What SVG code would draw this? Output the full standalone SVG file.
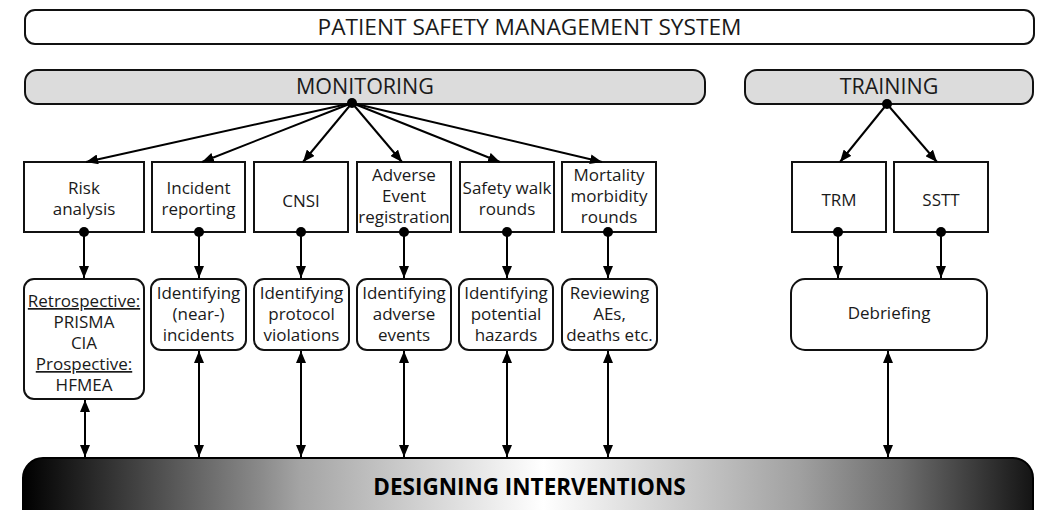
<svg xmlns="http://www.w3.org/2000/svg" width="1042" height="510" viewBox="0 0 1042 510">
  <defs>
    <style>
      .box { fill: #ffffff; stroke: #111111; stroke-width: 2; }
      .band { fill: #dcdcdc; stroke: #111111; stroke-width: 2; }
      .txt { font-family: "Open Sans", "Liberation Sans", sans-serif; font-size: 17px; fill: #1a1a1a; text-anchor: middle; }
      .head { font-family: "Open Sans", "Liberation Sans", sans-serif; font-size: 21.5px; fill: #1a1a1a; text-anchor: middle; }
      .title { font-size: 22.7px; }
      .bold { font-family: "Open Sans", "Liberation Sans", sans-serif; font-weight: bold; font-size: 22.5px; fill: #000000; text-anchor: middle; }
      .link { fill: none; stroke: #000000; stroke-width: 2; }
      .one { marker-end: url(#tip); }
      .two { marker-start: url(#tip); marker-end: url(#tip); }
      .dot { fill: #000000; }
    </style>
    <marker id="tip" viewBox="0 0 12 10" refX="12" refY="5" markerWidth="12" markerHeight="10" markerUnits="userSpaceOnUse" orient="auto-start-reverse">
      <path d="M0,0 L12,5 L0,10 z" fill="#000000"/>
    </marker>
    <linearGradient id="barShade" x1="0" y1="0" x2="1" y2="0">
      <stop offset="0" stop-color="#000000"/>
      <stop offset="0.235" stop-color="#8a8a8a"/>
      <stop offset="0.274" stop-color="#a4a4a4"/>
      <stop offset="0.515" stop-color="#ffffff"/>
      <stop offset="0.769" stop-color="#a0a0a0"/>
      <stop offset="0.868" stop-color="#6e6e6e"/>
      <stop offset="1" stop-color="#141414"/>
    </linearGradient>
  </defs>

  <!-- umbrella heading -->
  <g id="system">
    <rect class="box" x="25" y="10" width="1009" height="34" rx="10"/>
    <text class="head title" x="529.5" y="35">PATIENT SAFETY MANAGEMENT SYSTEM</text>
  </g>

  <!-- branch headings -->
  <g id="monitoring">
    <rect class="band" x="25" y="70" width="680" height="34" rx="12"/>
    <text class="head" x="365" y="94">MONITORING</text>
  </g>
  <g id="training">
    <rect class="band" x="745" y="70" width="288" height="34" rx="12"/>
    <text class="head" x="889" y="94">TRAINING</text>
  </g>

  <!-- instruments -->
  <g id="risk-analysis">
    <rect class="box" x="24" y="162" width="120" height="70"/>
    <text class="txt" x="84" y="194">Risk</text>
    <text class="txt" x="84" y="215">analysis</text>
  </g>
  <g id="incident-reporting">
    <rect class="box" x="152" y="162" width="93" height="70"/>
    <text class="txt" x="198.5" y="194">Incident</text>
    <text class="txt" x="198.5" y="215">reporting</text>
  </g>
  <g id="cnsi">
    <rect class="box" x="254" y="162" width="94" height="70"/>
    <text class="txt" x="301" y="207">CNSI</text>
  </g>
  <g id="adverse-event-registration">
    <rect class="box" x="357" y="162" width="94" height="70"/>
    <text class="txt" x="404" y="181">Adverse</text>
    <text class="txt" x="404" y="202">Event</text>
    <text class="txt" x="404" y="223">registration</text>
  </g>
  <g id="safety-walk-rounds">
    <rect class="box" x="460" y="162" width="94" height="70"/>
    <text class="txt" x="507" y="194">Safety walk</text>
    <text class="txt" x="507" y="215">rounds</text>
  </g>
  <g id="mortality-morbidity-rounds">
    <rect class="box" x="562" y="162" width="94" height="70"/>
    <text class="txt" x="609" y="181">Mortality</text>
    <text class="txt" x="609" y="202">morbidity</text>
    <text class="txt" x="609" y="223">rounds</text>
  </g>
  <g id="trm">
    <rect class="box" x="792" y="162" width="94" height="70"/>
    <text class="txt" x="839" y="206">TRM</text>
  </g>
  <g id="sstt">
    <rect class="box" x="894" y="162" width="94" height="70"/>
    <text class="txt" x="941" y="206">SSTT</text>
  </g>

  <!-- outcomes -->
  <g id="risk-methods">
    <rect class="box" x="24" y="279" width="120" height="120" rx="10"/>
    <text class="txt" x="84" y="307" text-decoration="underline">Retrospective:</text>
    <text class="txt" x="84" y="328">PRISMA</text>
    <text class="txt" x="84" y="349">CIA</text>
    <text class="txt" x="84" y="370" text-decoration="underline">Prospective:</text>
    <text class="txt" x="84" y="391">HFMEA</text>
  </g>
  <g id="identifying-incidents">
    <rect class="box" x="151" y="279" width="95" height="71" rx="10"/>
    <text class="txt" x="198.5" y="299">Identifying</text>
    <text class="txt" x="198.5" y="320">(near-)</text>
    <text class="txt" x="198.5" y="341">incidents</text>
  </g>
  <g id="identifying-violations">
    <rect class="box" x="254" y="279" width="95" height="71" rx="10"/>
    <text class="txt" x="301.5" y="299">Identifying</text>
    <text class="txt" x="301.5" y="320">protocol</text>
    <text class="txt" x="301.5" y="341">violations</text>
  </g>
  <g id="identifying-adverse-events">
    <rect class="box" x="357" y="279" width="94" height="71" rx="10"/>
    <text class="txt" x="404" y="299">Identifying</text>
    <text class="txt" x="404" y="320">adverse</text>
    <text class="txt" x="404" y="341">events</text>
  </g>
  <g id="identifying-hazards">
    <rect class="box" x="459" y="279" width="94" height="71" rx="10"/>
    <text class="txt" x="506" y="299">Identifying</text>
    <text class="txt" x="506" y="320">potential</text>
    <text class="txt" x="506" y="341">hazards</text>
  </g>
  <g id="reviewing">
    <rect class="box" x="562" y="279" width="95" height="71" rx="10"/>
    <text class="txt" x="609.5" y="299">Reviewing</text>
    <text class="txt" x="609.5" y="320">AEs,</text>
    <text class="txt" x="609.5" y="341">deaths etc.</text>
  </g>
  <g id="debriefing">
    <rect class="box" x="791" y="279" width="196" height="71" rx="14"/>
    <text class="txt" x="889" y="319">Debriefing</text>
  </g>

  <!-- common target, runs off the lower edge -->
  <g id="designing-interventions">
    <rect x="23" y="458" width="1010" height="80" rx="20" fill="url(#barShade)" stroke="#000000" stroke-width="2"/>
    <text class="bold" x="529.5" y="495">DESIGNING INTERVENTIONS</text>
  </g>

  <g id="connectors">
    <!-- fan-out from MONITORING -->
    <line class="link one" x1="352" y1="103" x2="86" y2="162"/>
    <line class="link one" x1="352" y1="103" x2="202" y2="162"/>
    <line class="link one" x1="352" y1="103" x2="303" y2="162"/>
    <line class="link one" x1="352" y1="103" x2="402" y2="162"/>
    <line class="link one" x1="352" y1="103" x2="500" y2="162"/>
    <line class="link one" x1="352" y1="103" x2="602" y2="162"/>
    <circle class="dot" cx="352" cy="103" r="5"/>

    <!-- fan-out from TRAINING -->
    <line class="link one" x1="887" y1="104" x2="840" y2="162"/>
    <line class="link one" x1="887" y1="104" x2="937" y2="162"/>
    <circle class="dot" cx="887" cy="104" r="5"/>

    <!-- instrument to outcome -->
    <line class="link one" x1="84" y1="232" x2="84" y2="278"/>
    <line class="link one" x1="199" y1="232" x2="199" y2="278"/>
    <line class="link one" x1="301" y1="232" x2="301" y2="278"/>
    <line class="link one" x1="404" y1="232" x2="404" y2="278"/>
    <line class="link one" x1="507" y1="232" x2="507" y2="278"/>
    <line class="link one" x1="608" y1="232" x2="608" y2="278"/>
    <line class="link one" x1="838" y1="232" x2="838" y2="278"/>
    <line class="link one" x1="941" y1="232" x2="941" y2="278"/>
    <circle class="dot" cx="84" cy="232" r="5"/>
    <circle class="dot" cx="199" cy="232" r="5"/>
    <circle class="dot" cx="301" cy="232" r="5"/>
    <circle class="dot" cx="404" cy="232" r="5"/>
    <circle class="dot" cx="507" cy="232" r="5"/>
    <circle class="dot" cx="608" cy="232" r="5"/>
    <circle class="dot" cx="838" cy="232" r="5"/>
    <circle class="dot" cx="941" cy="232" r="5"/>

    <!-- outcome to interventions, both ways -->
    <line class="link two" x1="85" y1="400" x2="85" y2="457"/>
    <line class="link two" x1="199" y1="351" x2="199" y2="457"/>
    <line class="link two" x1="301" y1="351" x2="301" y2="457"/>
    <line class="link two" x1="404" y1="351" x2="404" y2="457"/>
    <line class="link two" x1="507" y1="351" x2="507" y2="457"/>
    <line class="link two" x1="608" y1="351" x2="608" y2="457"/>
    <line class="link two" x1="888" y1="351" x2="888" y2="457"/>
  </g>
</svg>
